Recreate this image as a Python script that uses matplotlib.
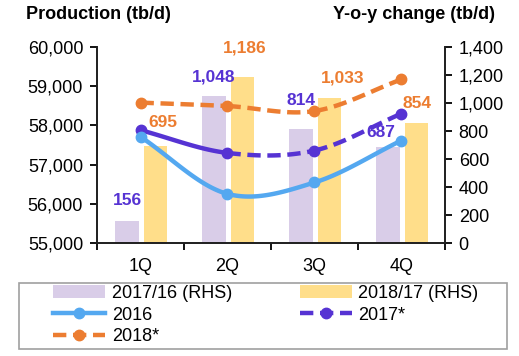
import numpy as np
import matplotlib
matplotlib.use("Agg")
import matplotlib.pyplot as plt
from matplotlib.ticker import FuncFormatter, FixedLocator
from matplotlib.lines import Line2D
from matplotlib.patches import Rectangle

plt.rcParams['font.family'] = ['Liberation Sans', 'DejaVu Sans']

quarters = ['1Q', '2Q', '3Q', '4Q']
chg_17_16 = [156, 1048, 814, 687]
chg_18_17 = [695, 1186, 1033, 854]
prod_2016 = [57710, 56256, 56546, 57615]
prod_2017 = [57880, 57300, 57360, 58300]
prod_2018 = [58582, 58495, 58367, 59172]

c_lav = '#D9CDE8'
c_yel = '#FFDE8A'
c_blue = '#54A8F0'
c_purp = '#5633D3'
c_orng = '#EC7D31'


def smooth(xs, ys, n=40):
    # Catmull-Rom style bezier through the points (like Excel smoothed line)
    xs = np.asarray(xs, float)
    ys = np.asarray(ys, float)
    px = np.concatenate([[2 * xs[0] - xs[1]], xs, [2 * xs[-1] - xs[-2]]])
    py = np.concatenate([[2 * ys[0] - ys[1]], ys, [2 * ys[-1] - ys[-2]]])
    segs = []
    for i in range(1, len(px) - 2):
        t = np.linspace(0, 1, n)
        p0, p1, p2, p3 = (np.array([px[j], py[j]]) for j in (i - 1, i, i + 1, i + 2))
        b1 = p1 + (p2 - p0) / 6
        b2 = p2 - (p3 - p1) / 6
        pts = ((1 - t) ** 3)[:, None] * p1 + (3 * (1 - t) ** 2 * t)[:, None] * b1 \
            + (3 * (1 - t) * t ** 2)[:, None] * b2 + (t ** 3)[:, None] * p2
        segs.append(pts)
    return segs


fig = plt.figure(figsize=(5.19, 3.56), dpi=100)
ax = fig.add_axes([0.187, 0.317, 0.670, 0.551])
ax2 = ax.twinx()
ax.set_zorder(ax2.get_zorder() + 1)
ax.patch.set_visible(False)

x = np.arange(len(quarters))
w = 0.27
ax2.bar(x - 0.155, chg_17_16, w, color=c_lav, label='2017/16 (RHS)')
ax2.bar(x + 0.175, chg_18_17, w, color=c_yel, label='2018/17 (RHS)')
ax2.set_ylim(0, 1400)
ax2.yaxis.set_major_locator(FixedLocator(range(0, 1401, 200)))

# data labels, offsets in pixels
offs_a = [(0, 21), (0, 19), (0, 29), (-7, 14)]
offs_b = [(7, 23), (2, 29), (13, 20), (0, 20)]
k = 72 / 100
for i in range(4):
    ax2.annotate(f'{chg_17_16[i]:,}', (x[i] - 0.155, chg_17_16[i]),
                 xytext=(offs_a[i][0] * k, offs_a[i][1] * k), textcoords='offset points',
                 ha='center', va='center', color=c_purp, fontsize=12.5, fontweight='bold')
    ax2.annotate(f'{chg_18_17[i]:,}', (x[i] + 0.175, chg_18_17[i]),
                 xytext=(offs_b[i][0] * k, offs_b[i][1] * k), textcoords='offset points',
                 ha='center', va='center', color=c_orng, fontsize=12.5, fontweight='bold')

lw = 3.2
ms = 7.5
dash = (0, (3, 1.5))
# 2018*
for s in smooth(x, prod_2018):
    ax.plot(s[:, 0], s[:, 1], color=c_orng, lw=lw, ls=dash)
ax.plot(x, prod_2018, 'o', color=c_orng, ms=ms)
# 2017*: first segment solid, rest dashed
for j, s in enumerate(smooth(x, prod_2017)):
    ax.plot(s[:, 0], s[:, 1], color=c_purp, lw=lw, ls='-' if j == 0 else dash)
ax.plot(x, prod_2017, 'o', color=c_purp, ms=ms)
# 2016
for s in smooth(x, prod_2016):
    ax.plot(s[:, 0], s[:, 1], color=c_blue, lw=lw, solid_capstyle='round')
ax.plot(x, prod_2016, 'o', color=c_blue, ms=ms)

ax.set_xlim(-0.5, 3.5)
ax.set_ylim(55000, 60000)
ax.yaxis.set_major_locator(FixedLocator(range(55000, 60001, 1000)))
fmt = FuncFormatter(lambda v, p: f'{int(v):,}')
ax.yaxis.set_major_formatter(fmt)
ax2.yaxis.set_major_formatter(fmt)

ax.set_xticks(x)
ax.set_xticklabels(quarters)
ax.set_xticks(np.arange(-0.5, 4, 1), minor=True)
ax.tick_params(axis='x', which='major', length=0, pad=11, labelsize=13)
ax.tick_params(axis='x', which='minor', length=5, width=1.3, direction='out')
ax.tick_params(axis='y', length=5, width=1.3, labelsize=13, pad=5)
ax2.tick_params(axis='y', length=5, width=1.3, labelsize=13, pad=5)

for a in (ax, ax2):
    a.spines['top'].set_visible(False)
    for sp in ('left', 'right', 'bottom'):
        a.spines[sp].set_linewidth(1.3)
        a.spines[sp].set_color('#222222')

fig.text(0.05, 0.958, 'Production (tb/d)', fontsize=13, fontweight='bold', ha='left', va='center')
fig.text(0.954, 0.958, 'Y-o-y change (tb/d)', fontsize=13, fontweight='bold', ha='right', va='center')

# legend: box drawn separately, entries placed without frame
fig.patches.append(Rectangle((19 / 519, 1 - 349 / 356), 488 / 519, 66 / 356,
                             transform=fig.transFigure, fill=False,
                             edgecolor='#A0A0A0', lw=1.2))
h_bars, l_bars = ax2.get_legend_handles_labels()
h16 = Line2D([], [], color=c_blue, lw=lw, marker='o', ms=ms)
h17 = Line2D([], [], color=c_purp, lw=lw, ls=dash, marker='o', ms=ms)
h18 = Line2D([], [], color=c_orng, lw=lw, ls=dash, marker='o', ms=ms)
handles = [h_bars[0], h16, h18, h_bars[1], h17]
labels = [l_bars[0], '2016', '2018*', l_bars[1], '2017*']
fig.legend(handles, labels, loc='upper left', bbox_to_anchor=(53 / 519, 1 - 285 / 356),
           ncol=2, fontsize=13, frameon=False, handlelength=2.9, handleheight=0.7,
           handletextpad=0.35, labelspacing=0.25, borderpad=0, borderaxespad=0,
           columnspacing=3.75)

fig.savefig('out.png', dpi=100)
